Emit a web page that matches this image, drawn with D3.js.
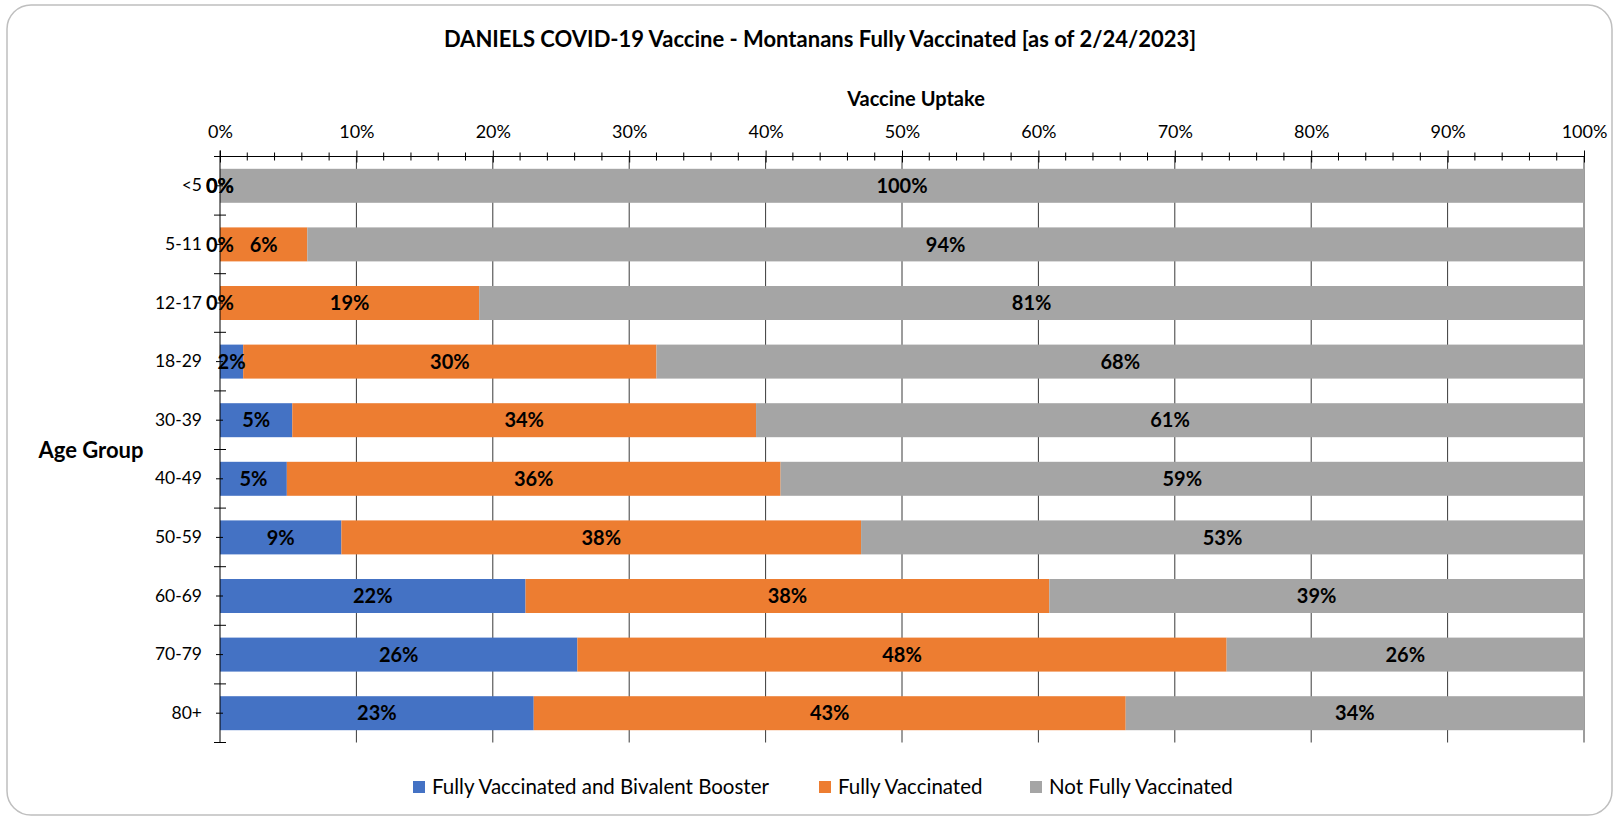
<!DOCTYPE html>
<html>
<head>
<meta charset="utf-8">
<script src="https://cdn.jsdelivr.net/npm/d3@7"></script>
<style>
  body { margin: 0; background: #fff; }
  svg text { font-family: Lato, "Open Sans", sans-serif; fill: #000; }
</style>
</head>
<body>
<div class="chart"></div>
<script>
const groups = ["<5", "5-11", "12-17", "18-29", "30-39", "40-49", "50-59", "60-69", "70-79", "80+"]
const booster = [0.0, 0.0, 0.0, 1.7, 5.3, 4.9, 8.9, 22.4, 26.2, 23.0]
const fully = [0.0, 6.4, 19.0, 30.3, 34.0, 36.2, 38.1, 38.4, 47.6, 43.4]
const notFully = [100.0, 93.6, 81.0, 68.0, 60.7, 58.9, 53.0, 39.2, 26.2, 33.6]
const seriesNames = ["Fully Vaccinated and Bivalent Booster", "Fully Vaccinated", "Not Fully Vaccinated"]
const colors = ["#4472C4", "#ED7D31", "#A5A5A5"]

const W = 1615, H = 817
const plot = ({left: 220, right: 1584, top: 156.5, bottom: 742.5})

const svg = d3.select('.chart').append('svg')
    .attr("width", W)
    .attr("height", H)

// chart border
svg.append("rect")
    .attr("x", 7).attr("y", 5)
    .attr("width", 1605).attr("height", 810)
    .attr("rx", 24)
    .attr("fill", "#fff")
    .attr("stroke", "#bfbfbf")
    .attr("stroke-width", 1.5)

const rows = groups.map((g, i) => ({group: g, booster: booster[i], fully: fully[i], notFully: notFully[i]}))
const stack = d3.stack().keys(["booster", "fully", "notFully"])(rows)

// SCALES
const xScale = d3.scaleLinear().domain([0, 100]).range([plot.left, plot.right])
const yScale = d3.scaleBand().domain(groups).range([plot.top, plot.bottom])
    .paddingInner(0.42).paddingOuter(0.21)

// gridlines
svg.append("g")
    .selectAll("line")
    .data(d3.range(10, 101, 10))
    .join("line")
    .attr("x1", d => xScale(d)).attr("x2", d => xScale(d))
    .attr("y1", plot.top).attr("y2", plot.bottom)
    .attr("stroke", "#3a3a3a")
    .attr("stroke-width", 1)

// BARS
svg.append("g")
    .selectAll("g")
    .data(stack)
    .join("g")
    .attr("fill", (d, i) => colors[i])
    .selectAll("rect")
    .data(d => d)
    .join("rect")
    .attr("x", d => xScale(d[0]))
    .attr("width", d => xScale(d[1]) - xScale(d[0]))
    .attr("y", d => yScale(d.data.group))
    .attr("height", yScale.bandwidth())

// AXES
const xAxis = d3.axisTop(xScale)
    .tickValues(d3.range(0, 101, 10))
    .tickSize(6)
    .tickPadding(13)
    .tickFormat(d => d + "%")

const xg = svg.append("g")
    .attr("transform", `translate(0,${plot.top})`)
    .call(xAxis)
xg.select(".domain").remove()
xg.selectAll(".tick line").attr("y1", 6).attr("stroke", "#000")
xg.selectAll("text").attr("font-size", 18).attr("font-family", "Lato")

// minor ticks
svg.append("g")
    .selectAll("line")
    .data(d3.range(2, 100, 2).filter(d => d % 10 !== 0))
    .join("line")
    .attr("x1", d => xScale(d)).attr("x2", d => xScale(d))
    .attr("y1", plot.top - 4).attr("y2", plot.top + 4)
    .attr("stroke", "#000")

svg.append("line")
    .attr("x1", plot.left).attr("x2", plot.right)
    .attr("y1", plot.top).attr("y2", plot.top)
    .attr("stroke", "#000")

const yAxis = d3.axisLeft(yScale).tickSize(0).tickPadding(18)
const yg = svg.append("g")
    .attr("transform", `translate(${plot.left},0)`)
    .call(yAxis)
yg.select(".domain").remove()
yg.selectAll("text").attr("font-size", 17.5).attr("font-family", "Lato")

// category boundary ticks and center ticks
const step = yScale.step()
svg.append("g")
    .selectAll("line")
    .data(d3.range(groups.length + 1))
    .join("line")
    .attr("x1", plot.left - 6).attr("x2", plot.left + 6)
    .attr("y1", i => plot.top + i * step).attr("y2", i => plot.top + i * step)
    .attr("stroke", "#000")
svg.append("g")
    .selectAll("line")
    .data(groups)
    .join("line")
    .attr("x1", plot.left - 4).attr("x2", plot.left + 3)
    .attr("y1", d => yScale(d) + yScale.bandwidth() / 2)
    .attr("y2", d => yScale(d) + yScale.bandwidth() / 2)
    .attr("stroke", "#000")

svg.append("line")
    .attr("x1", plot.left).attr("x2", plot.left)
    .attr("y1", plot.top - 6).attr("y2", plot.bottom)
    .attr("stroke", "#000")

// value labels
svg.append("g")
    .selectAll("g")
    .data(stack)
    .join("g")
    .selectAll("text")
    .data(d => d)
    .join("text")
    .attr("x", d => (xScale(d[0]) + xScale(d[1])) / 2)
    .attr("y", d => yScale(d.data.group) + yScale.bandwidth() / 2)
    .attr("dy", "0.36em")
    .attr("text-anchor", "middle")
    .attr("font-size", 20)
    .attr("font-weight", "bold")
    .text(d => Math.round(d[1] - d[0]) + "%")

// titles
svg.append("text")
    .attr("x", 820).attr("y", 47)
    .attr("text-anchor", "middle")
    .attr("font-size", 22)
    .attr("font-weight", "bold")
    .text("DANIELS COVID-19 Vaccine - Montanans Fully Vaccinated [as of 2/24/2023]")

svg.append("text")
    .attr("x", 916).attr("y", 106)
    .attr("text-anchor", "middle")
    .attr("font-size", 20)
    .attr("font-weight", "bold")
    .text("Vaccine Uptake")

svg.append("text")
    .attr("x", 91).attr("y", 458)
    .attr("text-anchor", "middle")
    .attr("font-size", 22)
    .attr("font-weight", "bold")
    .text("Age Group")

// legend
const legendX = [413, 819, 1030]
const legend = svg.append("g")
    .selectAll("g")
    .data(seriesNames)
    .join("g")
    .attr("transform", (d, i) => `translate(${legendX[i]},787)`)
legend.append("rect")
    .attr("x", 0).attr("y", -6)
    .attr("width", 12).attr("height", 12)
    .attr("fill", (d, i) => colors[i])
legend.append("text")
    .attr("x", 19).attr("dy", "0.36em")
    .attr("font-size", 20.5)
    .text(d => d)
</script>
</body>
</html>
